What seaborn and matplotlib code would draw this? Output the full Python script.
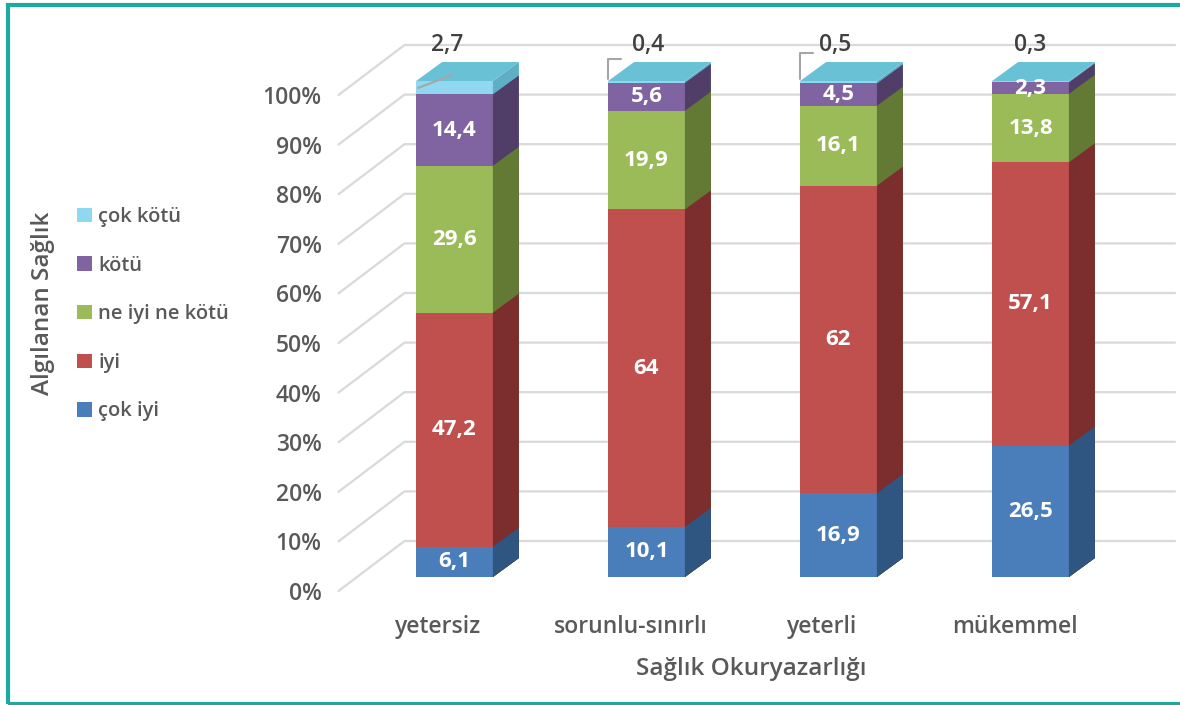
import matplotlib
matplotlib.use("Agg")
import matplotlib.pyplot as plt
import seaborn as sns
import numpy as np
from matplotlib.patches import Polygon, Patch, Rectangle
from matplotlib.lines import Line2D

# ---- data -------------------------------------------------------------
categories = ["yetersiz", "sorunlu-sınırlı", "yeterli", "mükemmel"]
series_names = ["çok iyi", "iyi", "ne iyi ne kötü", "kötü", "çok kötü"]
cok_iyi = [6.1, 10.1, 16.9, 26.5]
iyi = [47.2, 64.0, 62.0, 57.1]
orta = [29.6, 19.9, 16.1, 13.8]
kotu = [14.4, 5.6, 4.5, 2.3]
cok_kotu = [2.7, 0.4, 0.5, 0.3]
y_ticks = [0, 10, 20, 30, 40, 50, 60, 70, 80, 90, 100]
x_title = "Sağlık Okuryazarlığı"
y_title = "Algılanan Sağlık"

series_values = [cok_iyi, iyi, orta, kotu, cok_kotu]

# ---- styling ----------------------------------------------------------
front_colors = ["#4A7EBB", "#C0504D", "#9BBB59", "#8064A2", "#8FD8EF"]
side_colors = ["#2F5581", "#7B2E2D", "#627A34", "#513E68", "#5EAFC6"]
top_color = "#69C1D5"
text_grey = "#595959"
grid_grey = "#D9D9D9"

sns.set_style("white")
plt.rcParams["font.family"] = ["Open Sans", "DejaVu Sans"]

W, H = 1180, 705
fig = plt.figure(figsize=(W / 100, H / 100), dpi=100)
fig.patch.set_facecolor("white")

# front plane (ticks, labels, grid) and the bar plane slightly behind it
bar_left, bar_bottom, bar_w, bar_h = 358.5, 128.0, 768.0, 496.0
shift_x, shift_y = -16.0, -14.0
ax = fig.add_axes([(bar_left + shift_x) / W, (bar_bottom + shift_y) / H,
                   bar_w / W, bar_h / H])
axb = fig.add_axes([bar_left / W, bar_bottom / H, bar_w / W, bar_h / H])
for a in (ax, axb):
    a.set_xlim(-0.5, 3.5)
    a.set_ylim(0, 100)
    a.patch.set_alpha(0)
    for s in a.spines.values():
        s.set_visible(False)
axb.set_axis_off()


def shifted(a, x, y, dx, dy):
    """Move a data point by (dx, dy) pixels and return it in data units."""
    p = a.transData.transform((x, y)) + np.array([dx, dy])
    return a.transData.inverted().transform(p)


# ---- walls / gridlines ---------------------------------------------------
wall_dx, wall_dy = 66.0, 50.0
for v in y_ticks:
    f = shifted(ax, -0.5, v, -4, 0)
    b = shifted(ax, -0.5, v, -4 + wall_dx, wall_dy)
    e = ax.transData.inverted().transform((1175, ax.transData.transform((0, v))[1] + wall_dy))
    ax.add_line(Line2D([f[0], b[0], e[0]], [f[1], b[1], b[1]], color=grid_grey,
                       lw=1.6, clip_on=False, zorder=0))

# ---- ticks & titles ------------------------------------------------------
ax.set_yticks(y_ticks)
ax.set_yticklabels([f"{v}%" for v in y_ticks])
ax.set_xticks(range(len(categories)))
ax.set_xticklabels(categories)
ax.tick_params(axis="y", length=0, pad=15, labelsize=16.5, labelcolor=text_grey)
ax.tick_params(axis="x", length=0, pad=17, labelsize=16.5, labelcolor=text_grey)
for lab in ax.get_xticklabels() + ax.get_yticklabels():
    lab.set_fontweight("semibold")
ax.set_xlabel(x_title, fontsize=17.5, color=text_grey, fontweight="semibold")
ax.set_ylabel(y_title, fontsize=17.5, color=text_grey, fontweight="semibold")
ax.xaxis.set_label_coords((751 - (bar_left + shift_x)) / bar_w, -0.134)
ax.yaxis.set_label_coords((55 - (bar_left + shift_x)) / bar_w, 0.58)

# ---- 3D stacked bars -------------------------------------------------------
depth_dx, depth_dy = 26.0, 19.0
cum = np.cumsum(np.array(series_values), axis=0)
n = len(series_names)
bar_patches = {}
for k in range(n - 1, -1, -1):
    before = len(axb.patches)
    sns.barplot(x=categories, y=list(cum[k]), color=front_colors[k], saturation=1,
                width=0.4, linewidth=0, ax=axb, zorder=2)
    new = axb.patches[before:]
    bar_patches[k] = new
    for p in new:
        p.set_clip_on(False)
        x0, w, h = p.get_x(), p.get_width(), p.get_height()
        x1 = x0 + w
        a0 = shifted(axb, x1, 0, depth_dx, depth_dy)
        a1 = shifted(axb, x1, h, depth_dx, depth_dy)
        axb.add_patch(Polygon([(x1, 0), (x1, h), tuple(a1), tuple(a0)], closed=True,
                              facecolor=side_colors[k], edgecolor="none",
                              clip_on=False, zorder=2))
        if k == n - 1:
            t0 = shifted(axb, x0, h, depth_dx, depth_dy)
            axb.add_patch(Polygon([(x0, h), (x1, h), tuple(a1), tuple(t0)], closed=True,
                                  facecolor=top_color, edgecolor="none",
                                  clip_on=False, zorder=2))
axb.set_xlim(-0.5, 3.5)
axb.set_ylim(0, 100)
axb.set_axis_off()


def fmt(v):
    return f"{v:g}".replace(".", ",")


# value labels inside the segments
for k in range(n - 1):
    for i, v in enumerate(series_values[k]):
        bottom = cum[k][i] - v
        axb.text(i, bottom + v / 2, fmt(v), ha="center", va="center",
                 fontsize=16, fontweight="bold", color="white", zorder=5)

# labels for the thin top segment, placed above the bars
top_y = shifted(axb, 0, 100, 0, 36)[1]
label_dx = [-7, 2, -3, 0]
for i, v in enumerate(cok_kotu):
    xi = shifted(axb, i, 100, label_dx[i], 0)[0]
    axb.text(xi, top_y, fmt(v), ha="center", va="center", fontsize=16.5,
             fontweight="semibold", color="#404040", zorder=5)

# leader lines
lead_col = "#A6A6A6"
p0 = bar_patches[n - 1][0]
s = shifted(axb, p0.get_x(), 99.0, 2, -2)
e = shifted(axb, p0.get_x(), 99.0, 36, 11)
axb.add_line(Line2D([s[0], e[0]], [s[1], e[1]], color=lead_col, lw=1.5,
                    clip_on=False, zorder=6))
for i, top_px in [(1, 22), (2, 28)]:
    p = bar_patches[n - 1][i]
    b0 = shifted(axb, p.get_x(), 100, 0, 2)
    b1 = shifted(axb, p.get_x(), 100, 0, top_px)
    b2 = shifted(axb, p.get_x(), 100, 13, top_px)
    axb.add_line(Line2D([b0[0], b1[0], b2[0]], [b0[1], b1[1], b2[1]], color=lead_col,
                        lw=1.5, clip_on=False, zorder=6))

# ---- legend -----------------------------------------------------------------
handles = [Patch(facecolor=front_colors[k], edgecolor="none") for k in range(n - 1, -1, -1)]
labels = [series_names[k] for k in range(n - 1, -1, -1)]
leg = fig.legend(handles, labels, loc="upper left", bbox_to_anchor=(67 / W, 1 - 197 / H),
                 frameon=False, fontsize=14.5, labelcolor=text_grey, handlelength=0.72,
                 handleheight=0.72, handletextpad=0.32, labelspacing=1.42, borderpad=0)
for t in leg.get_texts():
    t.set_fontweight("semibold")

# ---- frame -------------------------------------------------------------------
fig.add_artist(Rectangle((7.5 / W, 1.5 / H), 1.2, 1 - 6 / H, transform=fig.transFigure,
                         fill=False, edgecolor="#1BA9A1", lw=3, clip_on=False))

fig.savefig("out.png", dpi=100)
